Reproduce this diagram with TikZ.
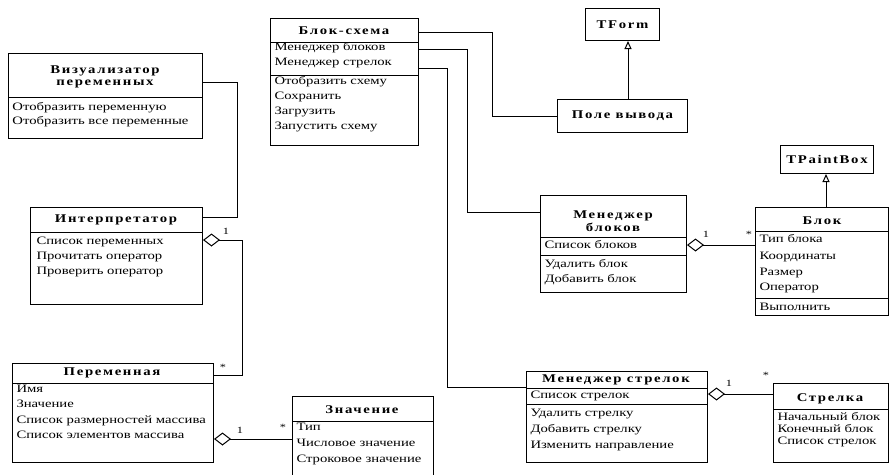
\documentclass[tikz,border=0pt]{standalone}
\usepackage{fontspec}
\setmainfont{Liberation Serif}[FakeStretch=1.3]
\newfontfamily\headfont{Liberation Serif}[FakeStretch=1.25,LetterSpace=14]
\usetikzlibrary{arrows.meta}
\tikzset{
  cls/.style={draw, inner sep=0pt, anchor=north west},
  item/.style={anchor=west, inner sep=0pt, text height=7.5pt, text depth=2pt,
    font=\fontsize{11.3}{12}\selectfont},
  head/.style={inner sep=0pt, align=center,
    font=\headfont\bfseries\fontsize{11.8}{12.5}\selectfont},
  mult/.style={inner sep=0pt, font=\fontsize{9.5}{9.5}\selectfont},
  agg/.style={{Diamond[open,length=17pt,width=13pt]}-},
  inherit/.style={-{Triangle[open,length=8pt,width=7pt]}}
}

\begin{document}
\begin{tikzpicture}[x=1pt, y=-1pt, line width=1pt]
\useasboundingbox (0,0) rectangle (890,474);
% class frames
\node[cls, minimum width=194pt, minimum height=85pt]  (viz)    at (8,53)    {};
\node[cls, minimum width=148pt, minimum height=127pt] (schema) at (270,18)  {};
\node[cls, head, minimum width=74pt, minimum height=32pt]  (tform)  at (585,8)   {TForm};
\node[cls, head, minimum width=130pt, minimum height=33pt] (output) at (557,99)  {Поле вывода};
\node[cls, minimum width=172pt, minimum height=97pt]  (interp) at (30,207)  {};
\node[cls, minimum width=201pt, minimum height=99pt]  (var)    at (12,363)  {};
\node[cls, minimum width=141pt, minimum height=82pt]  (val)    at (292,396) {};
\node[cls, minimum width=146pt, minimum height=97pt]  (bmgr)   at (540,195) {};
\node[cls, minimum width=133pt, minimum height=108pt] (block)  at (755,207) {};
\node[cls, head, minimum width=93pt, minimum height=28pt]  (tpaint) at (780,145) {TPaintBox};
\node[cls, minimum width=181pt, minimum height=91pt]  (amgr)   at (526,371) {};
\node[cls, minimum width=115pt, minimum height=79pt]  (arrowc) at (773,383) {};
% compartments
\foreach \n/\y in {viz/97, schema/42, schema/75, interp/232, var/383, val/421,
    bmgr/237, bmgr/255, block/231, block/298, amgr/388, amgr/404, arrowc/409}
  \draw (\n.west |- 0,\y) -- (\n.east |- 0,\y);
% class names
\node[head] (viz-h)    at (105,77)  {Визуализатор\\переменных};
\node[head] (schema-h) at (344,31)  {Блок-схема};
\node[head] (interp-h) at (116,220) {Интерпретатор};
\node[head] (var-h)    at (112,373) {Переменная};
\node[head] (val-h)    at (362,410) {Значение};
\node[head] (bmgr-h)   at (613,221) {Менеджер\\блоков};
\node[head] (block-h)  at (822,221) {Блок};
\node[head] (amgr-h)   at (616,380) {Менеджер стрелок};
\node[head] (arrowc-h) at (830,399) {Стрелка};
% members
\foreach \t/\y [count=\k] in {Отобразить переменную/108, Отобразить все переменные/122}
  \node[item] (viz\k) at (12,\y) {\t};
\foreach \t/\y [count=\k] in {Менеджер блоков/48, Менеджер стрелок/63, Отобразить схему/82,
    Сохранить/97, Загрузить/112, Запустить схему/127}
  \node[item] (schema\k) at (274,\y) {\t};
\foreach \t/\y [count=\k] in {Список переменных/242, Прочитать оператор/257, Проверить оператор/272}
  \node[item] (interp\k) at (36,\y) {\t};
\foreach \t/\y [count=\k] in {Имя/390, Значение/405, Список размерностей массива/421,
    Список элементов массива/436}
  \node[item] (var\k) at (16,\y) {\t};
\foreach \t/\y [count=\k] in {Тип/428, Числовое значение/444, Строковое значение/460}
  \node[item] (val\k) at (296,\y) {\t};
\foreach \t/\y [count=\k] in {Список блоков/246, Удалить блок/265, Добавить блок/280}
  \node[item] (bmgr\k) at (544,\y) {\t};
\foreach \t/\y [count=\k] in {Тип блока/240, Координаты/257, Размер/273, Оператор/288, Выполнить/308}
  \node[item] (block\k) at (759,\y) {\t};
\foreach \t/\y [count=\k] in {Список стрелок/396, Удалить стрелку/414, Добавить стрелку/430,
    Изменить направление/446}
  \node[item] (amgr\k) at (530,\y) {\t};
\foreach \t/\y [count=\k] in {Начальный блок/418, Конечный блок/430, Список стрелок/442}
  \node[item] (arrowc\k) at (777,\y) {\t};
% links
\draw (viz.east |- 0,82) -| (237,217) -- (interp.east |- 0,217);
\draw (schema.east |- 0,32) -| (492,116) -- (output.west |- 0,116);
\draw (schema.east |- 0,49) -| (467,212) -- (bmgr.west |- 0,212);
\draw (schema.east |- 0,68) -| (447,387) -- (amgr.west |- 0,387);
% aggregation
\draw[agg] (interp.east |- 0,240) -- (242,240) |- (var.east |- 0,375);
\draw[agg] (var.east |- 0,439) -- (val.west |- 0,439);
\draw[agg] (bmgr.east |- 0,245) -- (block.west |- 0,245);
\draw[agg] (amgr.east |- 0,394) -- (arrowc.west |- 0,394);
% inheritance
\draw[inherit] (output.north -| 628,0) -- (tform.south -| 628,0);
\draw[inherit] (block.north -| 826,0) -- (tpaint.south -| 826,0);
% multiplicities
\node[mult] (m1) at (226,231) {1};
\node[mult] (m2) at (223,367) {*};
\node[mult] (m3) at (240,430) {1};
\node[mult] (m4) at (283,427) {*};
\node[mult] (m5) at (706,234) {1};
\node[mult] (m6) at (749,234) {*};
\node[mult] (m7) at (729,383) {1};
\node[mult] (m8) at (766,375) {*};
\end{tikzpicture}
\end{document}
